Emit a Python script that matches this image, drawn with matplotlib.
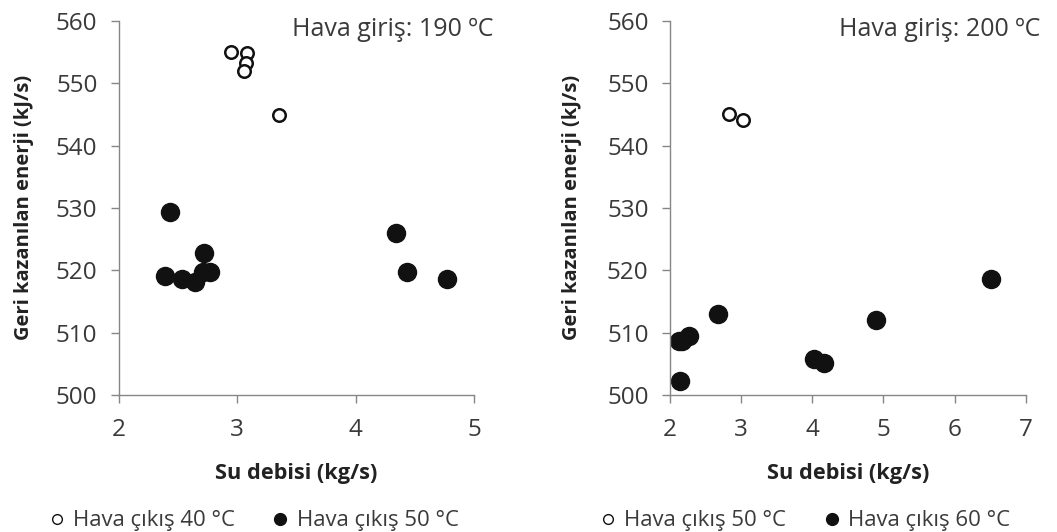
import matplotlib
matplotlib.use('Agg')
import matplotlib.pyplot as plt
from matplotlib.lines import Line2D

# Hava giriş 190 °C
x190_40 = [2.95, 3.08, 3.07, 3.06, 3.35]
y190_40 = [555.0, 554.8, 553.2, 552.0, 544.9]
x190_50 = [2.43, 2.39, 2.535, 2.64, 2.72, 2.71, 2.77, 4.34, 4.43, 4.77]
y190_50 = [529.4, 519.0, 518.6, 518.1, 522.7, 519.8, 519.8, 526.0, 519.8, 518.6]

# Hava giriş 200 °C
x200_50 = [2.83, 3.03]
y200_50 = [545.1, 544.1]
x200_60 = [2.12, 2.17, 2.27, 2.14, 2.67, 4.02, 4.16, 4.89, 6.51]
y200_60 = [508.7, 508.7, 509.4, 502.2, 513.0, 505.8, 505.2, 512.0, 518.6]

plt.rcParams['font.family'] = ['Open Sans', 'DejaVu Sans']
TXT = '#3a3a3a'
AX = '#868686'

fig = plt.figure(figsize=(10.57, 5.32), dpi=100)
ax1 = fig.add_axes([0.1126, 0.2575, 0.3358, 0.7035])
ax2 = fig.add_axes([0.6339, 0.2575, 0.3365, 0.7035])

panels = [
    (ax1, x190_40, y190_40, x190_50, y190_50, (2, 5), 'Hava giriş: 190 ºC',
     'Hava çıkış 40 °C', 'Hava çıkış 50 °C', -0.24, 1.055),
    (ax2, x200_50, y200_50, x200_60, y200_60, (2, 7), 'Hava giriş: 200 ºC',
     'Hava çıkış 50 °C', 'Hava çıkış 60 °C', -0.248, 1.04),
]

for ax, xo, yo, xf, yf, xlim, note, lab_o, lab_f, ylx, notex in panels:
    ax.plot(xf, yf, 'o', ms=13, color='#111111', mec='#111111', ls='none')
    ax.plot(xo, yo, 'o', ms=9, mfc='white', mec='#111111', mew=1.8, ls='none')
    ax.set_xlim(*xlim)
    ax.set_ylim(500, 560)
    ax.set_xticks(range(xlim[0], xlim[1] + 1))
    ax.set_yticks(range(500, 561, 10))
    for s in ['top', 'right']:
        ax.spines[s].set_visible(False)
    for s in ['left', 'bottom']:
        ax.spines[s].set_color(AX)
        ax.spines[s].set_linewidth(1.0)
    ax.tick_params(colors=AX, labelcolor=TXT, labelsize=17.5, length=5.5, width=1.0)
    ax.tick_params(axis='x', pad=11)
    ax.tick_params(axis='y', pad=10)
    ax.set_xlabel('Su debisi (kg/s)', fontsize=15.7, fontweight='bold', color='#222222')
    ax.set_ylabel('Geri kazanılan enerji (kJ/s)', fontsize=14.5, fontweight='bold', color='#222222')
    ax.xaxis.set_label_coords(0.5, -0.181)
    ax.yaxis.set_label_coords(ylx, 0.5)
    ax.text(notex, 0.96, note, transform=ax.transAxes, ha='right', va='baseline',
            fontsize=18, color=TXT)
    handles = [
        Line2D([], [], marker='o', ls='none', ms=7, mfc='white', mec='#111111', mew=1),
        Line2D([], [], marker='o', ls='none', ms=8.5, color='#111111'),
    ]
    ax.legend(handles, [lab_o, lab_f], loc='center', bbox_to_anchor=(0.38, -0.336),
              ncol=2, frameon=False, fontsize=15.9, handletextpad=0.4,
              columnspacing=1.7, handlelength=0.7, labelcolor=TXT,
              borderaxespad=0, borderpad=0)

fig.savefig('out.png', dpi=100, facecolor='white')
